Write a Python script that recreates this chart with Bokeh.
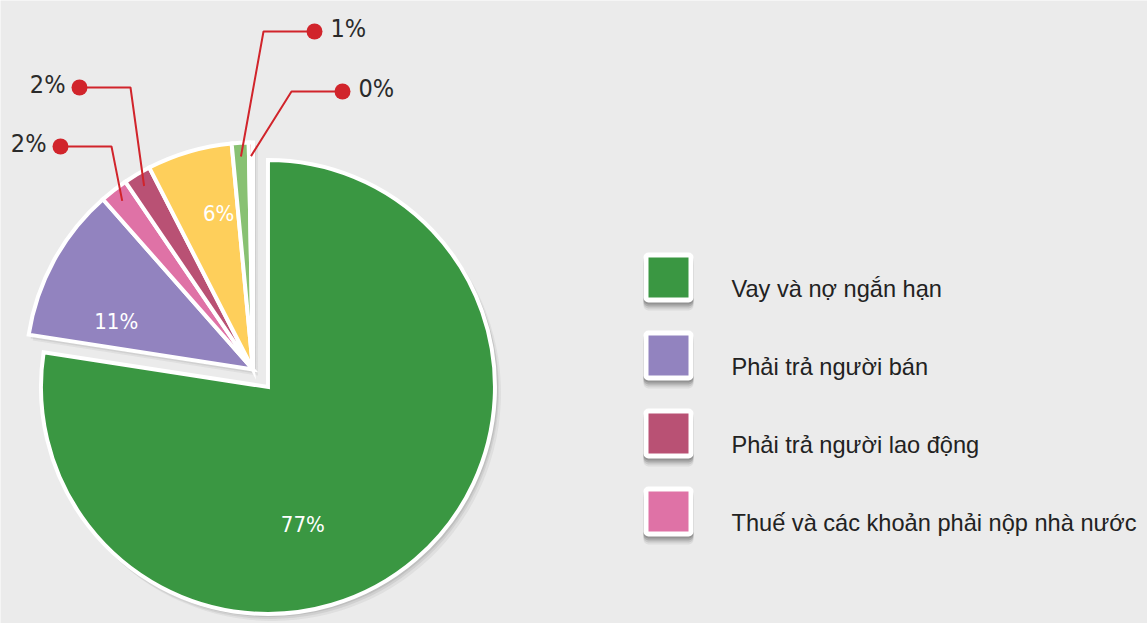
import math
from bokeh.plotting import figure
from bokeh.models import Range1d, ColumnDataSource
from bokeh.core.properties import value
from bokeh.embed import file_html
from bokeh.resources import INLINE

# ---------------- data ----------------
categories = [
    "Vay và nợ ngắn hạn",
    "Phải trả người bán",
    "Thuế và các khoản phải nộp nhà nước",
    "Phải trả người lao động",
    "Người mua trả tiền trước",
    "Chi phí phải trả",
    "Phải trả khác",
]
values = [77.45, 11.05, 2.0, 1.95, 6.05, 1.2, 0.3]
legend_order = [0, 1, 3, 2]          # categories shown in the legend

# ---------------- style / layout ----------------
colors = ["#3a9742", "#9283bf", "#df72a6", "#b95174", "#fecf5b", "#88c172", "#e0474c"]
BG = "#ebebeb"
RED = "#d1242b"
W, H = 1147, 623
NARROW = "DejaVu Sans Condensed, Roboto, sans-serif"


def Y(yi):
    return H - yi


CX, CY = 252.5, Y(369)
R = 227
EXPLODE = {0: 23}
inner_labels = {0: (142, -75.8), 1: (145, 160.6), 4: (160, 102.4)}   # (radius px, angle deg) from slice centre
leaders = {  # elbow (img), dot (img), side
    2: ((111, 146), (60, 146), "left"),
    3: ((130, 87), (79, 87), "left"),
    5: ((263, 31), (314, 31), "right"),
    6: ((291, 91), (342, 91), "right"),
}

p = figure(width=W, height=H, x_range=Range1d(0, W), y_range=Range1d(0, H),
           output_backend="svg", toolbar_location=None, min_border=0)
p.axis.visible = False
p.grid.visible = False
p.outline_line_color = None
p.background_fill_color = BG
p.border_fill_color = BG

total = sum(values)
cum = 0.0
slices = []
for i, v in enumerate(values):
    s = cum / total
    cum += v
    e = cum / total
    a0 = 90 - 360 * e
    a1 = 90 - 360 * s
    mid = (a0 + a1) / 2
    off = EXPLODE.get(i, 0)
    cx = CX + off * math.cos(math.radians(mid))
    cy = CY + off * math.sin(math.radians(mid))
    slices.append(dict(i=i, a0=math.radians(a0), a1=math.radians(a1), mid=mid, cx=cx, cy=cy,
                       pct=100 * v / total))

# soft shadows
for k, (dxs, dys, alpha) in enumerate([(5, -6, 0.10), (3, -4, 0.14), (2, -2, 0.18)]):
    p.wedge(x=[s["cx"] + dxs for s in slices], y=[s["cy"] + dys for s in slices], radius=R + 1,
            start_angle=[s["a0"] for s in slices], end_angle=[s["a1"] for s in slices],
            direction="anticlock", fill_color="#777777", fill_alpha=alpha, line_color=None)

src = ColumnDataSource(dict(
    x=[s["cx"] for s in slices], y=[s["cy"] for s in slices],
    a0=[s["a0"] for s in slices], a1=[s["a1"] for s in slices], c=colors,
))
p.wedge(x="x", y="y", radius=R, start_angle="a0", end_angle="a1",
        direction="anticlock", fill_color="c", line_color="white", line_width=4,
        line_join="miter", source=src)

# inner labels
lx, ly, lt = [], [], []
for i, (r, ang) in inner_labels.items():
    s = slices[i]
    lx.append(s["cx"] + r * math.cos(math.radians(ang)))
    ly.append(s["cy"] + r * math.sin(math.radians(ang)))
    lt.append(f"{round(s['pct'])}%")
p.text(x=lx, y=ly, text=lt, text_color="white", text_font=value(NARROW),
       text_font_size="22px", text_align="center", text_baseline="middle")

# leader lines
xs, ys, dx, dy = [], [], [], []
for i, ((ex, ey), (px_, py_), side) in leaders.items():
    s = slices[i]
    rr = 0.94 * R
    sx = s["cx"] + rr * math.cos(math.radians(s["mid"]))
    sy = s["cy"] + rr * math.sin(math.radians(s["mid"]))
    xs.append([sx, ex, px_])
    ys.append([sy, Y(ey), Y(py_)])
    dx.append(px_)
    dy.append(Y(py_))
    tx = px_ - 14 if side == "left" else px_ + 16
    p.text(x=[tx], y=[Y(py_) + 3], text=[f"{round(s['pct'])}%"], text_color="#2a2a2a",
           text_font=value(NARROW), text_font_size="25px",
           text_align="right" if side == "left" else "left", text_baseline="middle")
p.multi_line(xs=xs, ys=ys, line_color=RED, line_width=2)
p.scatter(x=dx, y=dy, size=16, fill_color=RED, line_color=None)

# legend
bx = 668
by = [Y(277 + 78 * k) for k in range(len(legend_order))]
n = len(by)
for off, alpha in [(8, 0.08), (6, 0.12), (4, 0.18), (2, 0.2)]:
    p.quad(left=[bx - 25] * n, right=[bx + 25] * n, top=[b + 25 - off for b in by],
           bottom=[b - 25 - off for b in by], fill_color="#333333", fill_alpha=alpha,
           line_color=None, border_radius=5)
p.quad(left=[bx - 25] * n, right=[bx + 25] * n, top=[b + 25 for b in by],
       bottom=[b - 25 for b in by], fill_color="white", line_color=None, border_radius=5)
p.quad(left=[bx - 20] * n, right=[bx + 20] * n, top=[b + 20 for b in by],
       bottom=[b - 20 for b in by], fill_color=[colors[i] for i in legend_order], line_color=None)
p.text(x=[731] * n, y=[b - 11 for b in by], text=[categories[i] for i in legend_order],
       text_color="#222222", text_font=value("Liberation Sans"), text_font_size="23.6px",
       text_align="left", text_baseline="middle")

open("out.html", "w").write(file_html(p, INLINE))
